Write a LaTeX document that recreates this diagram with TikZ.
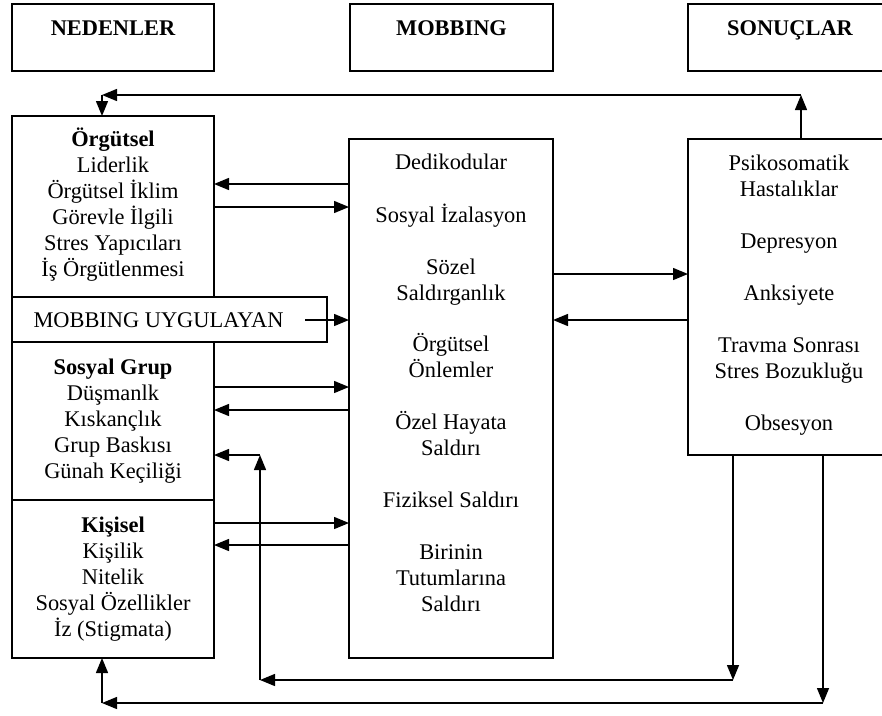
\documentclass[tikz,border=0pt]{standalone}
\usepackage{fontspec}
\setmainfont{Liberation Serif}
\usetikzlibrary{arrows.meta}
\begin{document}
\begin{tikzpicture}[x=1pt,y=-1pt,
  every node/.style={font=\fontsize{22.4}{26}\selectfont},
  box/.style={draw, line width=1.4pt, inner sep=0pt, outer sep=0pt},
  % multi-line labels are placed by the baseline of their last line
  txt/.style={align=center, inner sep=0pt, anchor=base},
  head/.style={txt, font=\fontsize{22.4}{26}\selectfont\bfseries},
  arr/.style={line width=1.4pt, -{Triangle[length=15pt,width=12pt]}}]
\useasboundingbox (0,0) rectangle (882,715);
\clip (0,0) rectangle (882,715);

% header boxes
\node[box, minimum width=202, minimum height=67] (ned) at (113,37.5) {};
\node[box, minimum width=203, minimum height=67] (mob) at (451.5,37.5) {};
\node[box, minimum width=204, minimum height=67] (son) at (790,37.5) {};
\node[head] (nedT) at (113,35.5) {NEDENLER};
\node[head] (mobT) at (451.5,35.5) {MOBBING};
\node[head] (sonT) at (790,35.5) {SONUÇLAR};

% causes column
\node[box, minimum width=202, minimum height=181] (org) at (113,206.5) {};
\node[box, minimum width=315, minimum height=45] (uyg) at (169.5,319.5) {};
\node[box, minimum width=202, minimum height=158] (grp) at (113,421) {};
\node[box, minimum width=202, minimum height=158] (kis) at (113,579) {};
\node[txt] (orgT) at (113,276) {\textbf{Örgütsel}\\Liderlik\\Örgütsel İklim\\Görevle İlgili\\Stres Yapıcıları\\İş Örgütlenmesi};
\node[txt] (uygT) at (158.5,327) {MOBBING UYGULAYAN};
\node[txt] (grpT) at (113,478) {\textbf{Sosyal Grup}\\Düşmanlk\\Kıskançlık\\Grup Baskısı\\Günah Keçiliği};
\node[txt] (kisT) at (113,636) {\textbf{Kişisel}\\Kişilik\\Nitelik\\Sosyal Özellikler\\İz (Stigmata)};

% mobbing column
\node[box, minimum width=204, minimum height=519] (mid) at (451,398.5) {};
\node[txt] (m1) at (451,169) {Dedikodular};
\node[txt] (m2) at (451,222) {Sosyal İzalasyon};
\node[txt] (m3) at (451,300) {Sözel\\Saldırganlık};
\node[txt] (m4) at (451,377) {Örgütsel\\Önlemler};
\node[txt] (m5) at (451,455) {Özel Hayata\\Saldırı};
\node[txt] (m6) at (451,507) {Fiziksel Saldırı};
\node[txt] (m7) at (451,611) {Birinin\\Tutumlarına\\Saldırı};

% results column
\node[box, minimum width=204, minimum height=316] (res) at (790,297) {};
\node[txt] (r1) at (789,196) {Psikosomatik\\Hastalıklar};
\node[txt] (r2) at (789,248) {Depresyon};
\node[txt] (r3) at (789,300) {Anksiyete};
\node[txt] (r4) at (789,378) {Travma Sonrası\\Stres Bozukluğu};
\node[txt] (r5) at (789,430) {Obsesyon};

% links between causes and mobbing
\draw[arr] (mid.west |- 0,184) -- (org.east |- 0,184);
\draw[arr] (org.east |- 0,207) -- (mid.west |- 0,207);
\coordinate (uygS) at (305,320);
\draw[arr] (uygS) -- (mid.west |- uygS);
\draw[arr] (grp.east |- 0,387) -- (mid.west |- 0,387);
\draw[arr] (mid.west |- 0,410) -- (grp.east |- 0,410);
\draw[arr] (kis.east |- 0,523) -- (mid.west |- 0,523);
\draw[arr] (mid.west |- 0,545) -- (kis.east |- 0,545);

% links between mobbing and results
\draw[arr] (mid.east |- 0,274) -- (res.west |- 0,274);
\draw[arr] (res.west |- 0,320) -- (mid.east |- 0,320);

% feedback to organisational causes
\coordinate (t1) at (801,95);
\coordinate (t2) at (102,95);
\draw[arr] (res.north -| t1) -- (t1);
\draw[arr] (t1) -- (t2);
\draw[arr] (t2) -- (org.north -| t2);

% feedback to social group
\coordinate (a1) at (733,680);
\coordinate (a2) at (260,680);
\coordinate (a3) at (260,455);
\draw[arr] (res.south -| a1) -- (a1);
\draw[arr] (a1) -- (a2);
\draw[arr] (a2) -- (a3);
\draw[arr] (a3) -- (grp.east |- a3);

% feedback to personal causes
\coordinate (b1) at (823,703);
\coordinate (b2) at (102,703);
\draw[arr] (res.south -| b1) -- (b1);
\draw[arr] (b1) -- (b2);
\draw[arr] (b2) -- (kis.south -| b2);
\end{tikzpicture}
\end{document}
